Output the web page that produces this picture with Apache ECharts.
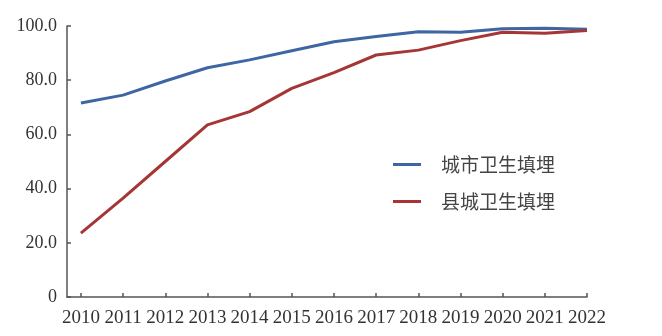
<!DOCTYPE html>
<html>
<head>
<meta charset="utf-8">
<script src="https://cdn.jsdelivr.net/npm/echarts@6/dist/echarts.min.js"></script>
<style>html,body{margin:0;padding:0;background:#fff}#c{width:662px;height:336px}</style>
</head>
<body>
<div id="c"></div>
<script>
var years = [2010, 2011, 2012, 2013, 2014, 2015, 2016, 2017, 2018, 2019, 2020, 2021, 2022];
var cityNames = ['城市卫生填埋', '县城卫生填埋'];
var cityValues = [71.6, 74.5, 79.7, 84.6, 87.5, 90.9, 94.2, 96.1, 97.9, 97.7, 99.0, 99.2, 98.8];
var countyValues = [23.6, 36.5, 50.0, 63.5, 68.4, 77.0, 82.8, 89.3, 91.1, 94.6, 97.7, 97.3, 98.3];
var yTicks = [0, 20, 40, 60, 80, 100];

function pairs(vals) { return years.map(function (y, i) { return [y, vals[i]]; }); }

var chart = echarts.init(document.getElementById('c'), null, { renderer: 'canvas' });
var axisFont = 'Liberation Serif';
chart.setOption({
  animation: false,
  backgroundColor: '#ffffff',
  grid: { left: 67, right: 75, top: 26, bottom: 39, containLabel: false },
  legend: {
    orient: 'vertical',
    left: 388,
    top: 150,
    itemWidth: 28,
    itemHeight: 3,
    itemGap: 18,
    icon: 'rect',
    data: cityNames,
    textStyle: { fontFamily: 'Noto Sans CJK SC', fontSize: 19, color: '#444', padding: [0, 0, 0, 15] }
  },
  xAxis: {
    type: 'value',
    min: 2009.67,
    max: 2022,
    axisLine: { show: true, lineStyle: { color: '#555', width: 1.5 } },
    axisTick: { show: true, inside: true, length: 4, customValues: years, lineStyle: { color: '#555', width: 1.5 } },
    axisLabel: { customValues: years, margin: 12, fontFamily: axisFont, fontSize: 19, color: '#333', formatter: function (v) { return String(v); } },
    splitLine: { show: false }
  },
  yAxis: {
    type: 'value',
    min: 0,
    max: 100,
    interval: 20,
    axisLine: { show: true, lineStyle: { color: '#555', width: 1.5 } },
    axisTick: { show: true, inside: true, length: 4, lineStyle: { color: '#555', width: 1.5 } },
    axisLabel: { margin: 10, fontFamily: axisFont, fontSize: 18, color: '#333',
      formatter: function (v) { return v === 0 ? '0' : v.toFixed(1); } },
    splitLine: { show: false }
  },
  series: [
    { name: cityNames[0], type: 'line', data: pairs(cityValues), showSymbol: false, symbol: 'none',
      lineStyle: { color: '#3d66a3', width: 3 }, itemStyle: { color: '#3d66a3' } },
    { name: cityNames[1], type: 'line', data: pairs(countyValues), showSymbol: false, symbol: 'none',
      lineStyle: { color: '#a63636', width: 3 }, itemStyle: { color: '#a63636' } }
  ]
});
</script>
</body>
</html>
